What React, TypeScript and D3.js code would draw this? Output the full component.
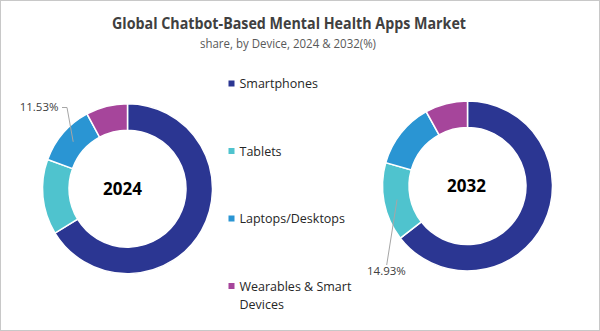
import React from "react";
import * as d3 from "d3";

const categories = ["Smartphones", "Tablets", "Laptops/Desktops", "Wearables & Smart Devices"];
const legendLines = [["Smartphones"], ["Tablets"], ["Laptops/Desktops"], ["Wearables & Smart", "Devices"]];
const colors = ["#2B3692", "#4FC3CE", "#2A95D3", "#A6459B"];
const values2024 = [66.27, 14.3, 11.53, 7.9];
const values2032 = [64.5, 14.93, 12.5, 8.07];
const years = ["2024", "2032"];

const W = 600;
const H = 331;
const R_OUT = 85;
const R_IN = 58.5;

function Donut({ values, cx, cy, year, labelIdx, labelText, labelPos, textDx }: any) {
  const pie = d3.pie<number>().sort(null).value((d) => d);
  const arcs = pie(values);
  const arc = d3.arc<d3.PieArcDatum<number>>().innerRadius(R_IN).outerRadius(R_OUT);
  const midArc = d3.arc<d3.PieArcDatum<number>>().innerRadius((R_IN + R_OUT) / 2).outerRadius((R_IN + R_OUT) / 2);
  const c = midArc.centroid(arcs[labelIdx]);
  const ax = cx + c[0];
  const ay = cy + c[1];
  return (
    <g>
      <g transform={`translate(${cx},${cy})`}>
        {arcs.map((a, i) => (
          <path key={i} d={arc(a) || ""} fill={colors[i]} stroke="#fff" strokeWidth={1.5} />
        ))}
        <text x={textDx} y={0} dy="0.36em" textAnchor="middle" fontFamily="'Open Sans', sans-serif" fontWeight={700} fontSize={17} fill="#000">
          {year}
        </text>
      </g>
      <path d={labelPos.path(ax, ay)} fill="none" stroke="#A6A6A6" strokeWidth={1} />
      <text x={labelPos.x} y={labelPos.y} textAnchor={labelPos.anchor} fontFamily="'Open Sans', sans-serif" fontSize={11.5} fill="#404040">
        {labelText}
      </text>
    </g>
  );
}

export default function App() {
  const legendY = [83.5, 151, 218.5, 286];
  return (
    <svg width={W} height={H} style={{ position: "absolute", left: 0, top: 0 }}>
      <rect x={0.5} y={0.5} width={W - 1} height={H - 1} fill="#fff" stroke="#C8C8C8" strokeWidth={1} />
      <text x={289} y={28.5} textAnchor="middle" fontFamily="'Open Sans', sans-serif" fontWeight={700} fontSize={15.5} fill="#404040" textLength={354} lengthAdjust="spacingAndGlyphs">
        Global Chatbot-Based Mental Health Apps Market
      </text>
      <text x={288} y={48} textAnchor="middle" fontFamily="'Open Sans', sans-serif" fontSize={12.5} fill="#595959" textLength={176} lengthAdjust="spacingAndGlyphs">
        share, by Device, 2024 &amp; 2032(%)
      </text>
      <Donut
        values={values2024}
        cx={127.5}
        cy={188.7}
        year={years[0]}
        textDx={-5}
        labelIdx={2}
        labelText={`${values2024[2].toFixed(2)}%`}
        labelPos={{ x: 58.5, y: 111, anchor: "end", path: (ax: number, ay: number) => `M62,107.5H67L${ax},${ay}` }}
      />
      <Donut
        values={values2032}
        cx={467.5}
        cy={186}
        year={years[1]}
        textDx={-1}
        labelIdx={1}
        labelText={`${values2032[1].toFixed(2)}%`}
        labelPos={{ x: 367, y: 275, anchor: "start", path: (ax: number, ay: number) => `M${ax},${ay}L386.7,265` }}
      />
      {categories.map((c, i) => (
        <g key={c}>
          <rect x={228.5} y={legendY[i] - 3} width={6} height={6} fill={colors[i]} />
          {legendLines[i].map((ln, j) => (
            <text key={j} x={239.5} y={legendY[i] + 4.5 + j * 18} fontFamily="'Open Sans', sans-serif" fontSize={12.5} fill="#262626">
              {ln}
            </text>
          ))}
        </g>
      ))}
    </svg>
  );
}
